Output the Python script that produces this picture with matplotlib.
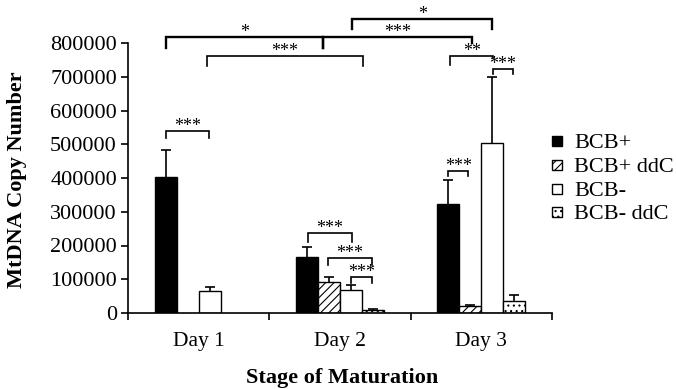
import numpy as np
import matplotlib.pyplot as plt
from matplotlib.patches import Rectangle

plt.rcParams['font.family'] = ['Liberation Serif', 'DejaVu Serif']
plt.rcParams['hatch.linewidth'] = 0.8

days = ['Day 1', 'Day 2', 'Day 3']
groups = ['BCB+', 'BCB+ ddC', 'BCB-', 'BCB- ddC']

# mean copy number per day (nan = not measured)
bcb_pos = [404000, 165000, 323000]
bcb_pos_ddc = [np.nan, 93000, 21000]
bcb_neg = [66000, 68000, 503000]
bcb_neg_ddc = [np.nan, 9000, 36000]

# upper error (SEM)
bcb_pos_err = [79000, 31000, 71000]
bcb_pos_ddc_err = [np.nan, 13000, 3000]
bcb_neg_err = [12000, 14000, 195000]
bcb_neg_ddc_err = [np.nan, 2500, 17000]

values = [bcb_pos, bcb_pos_ddc, bcb_neg, bcb_neg_ddc]
errors = [bcb_pos_err, bcb_pos_ddc_err, bcb_neg_err, bcb_neg_ddc_err]

# significance brackets: x1, x2, top, left leg end, right leg end, label
brackets = [
    (-0.234, 0.879, 818700, 786000, 786000, '*'),
    (0.879, 1.936, 818700, 786000, 800900, '***'),
    (1.085, 2.078, 871100, 841500, 841500, '*'),
    (0.062, 1.161, 761500, 731900, 731900, '***'),
    (1.78, 2.085, 761500, 734800, 755600, '**'),
    (2.083, 2.225, 723000, 708100, 708100, '***'),
    (-0.234, 0.071, 540100, 519400, 519400, '***'),
    (0.773, 1.083, 236100, 211300, 211300, '***'),
    (0.915, 1.225, 163900, 142200, 142200, '***'),
    (1.078, 1.225, 107600, 89800, 89800, '***'),
    (1.766, 1.908, 422200, 405900, 405900, '***'),
]

faces = ['black', 'white', 'white', 'white']
hatches = [None, '////', None, '...']

W, H = 676, 389
fig = plt.figure(figsize=(W/100, H/100), dpi=100)
ax = fig.add_axes([128/W, 76/H, 424/W, 270/H])

x = np.arange(len(days))
w = 0.156
for i in range(4):
    xs = x + (i - 1.5) * w
    v = np.array(values[i], dtype=float)
    e = np.array(errors[i], dtype=float)
    ok = ~np.isnan(v)
    ax.bar(xs[ok], v[ok], w, color=faces[i], edgecolor='black',
           hatch=hatches[i], linewidth=1, zorder=2)
    eb = ax.errorbar(xs[ok], v[ok], yerr=[np.zeros(ok.sum()), e[ok]], fmt='none',
                     ecolor='black', elinewidth=1.2, capsize=3.5, capthick=1.2, zorder=1)
    eb[1][0].set_visible(False)  # no cap at the bar top

for x1, x2, top, l1, l2, lab in brackets:
    lw = 1.7 if top > 800000 else 1.2
    ax.plot([x1, x1, x2, x2], [l1, top, top, l2], color='black', lw=lw,
            clip_on=False, solid_joinstyle='miter')
    ax.text((x1 + x2) / 2, top, lab, ha='center', va='baseline',
            fontsize=13, clip_on=False)

ax.set_xlim(-0.5, 2.5)
ax.set_ylim(0, 800000)
ax.set_yticks(np.arange(0, 800001, 100000))
ax.set_yticklabels([str(t) for t in range(0, 800001, 100000)])
ax.set_xticks([-0.5, 0.5, 1.5, 2.5])
ax.set_xticklabels([])
ax.set_xticks(x, minor=True)
ax.set_xticklabels(days, minor=True)
ax.tick_params(axis='x', which='major', direction='out', length=5, width=1.2)
ax.tick_params(axis='x', which='minor', length=0, pad=14, labelsize=15.5)
ax.tick_params(axis='y', direction='out', length=5, width=1.2, labelsize=16, pad=3)
for s in ['top', 'right']:
    ax.spines[s].set_visible(False)
for s in ['left', 'bottom']:
    ax.spines[s].set_linewidth(1.2)

fig.text(17/W, 1 - 180/H, 'MtDNA Copy Number', rotation=90, ha='center',
         va='center', fontsize=16, fontweight='bold')
fig.text(342/W, 1 - 378/H, 'Stage of Maturation', ha='center',
         va='center', fontsize=16, fontweight='bold')

# legend, drawn by hand so the rows sit where they do in the original
row_y = [141, 165, 189, 212]
for i, lab in enumerate(groups):
    yc = row_y[i]
    fig.add_artist(Rectangle((552/W, 1 - (yc + 5)/H), 10/W, 10/H,
                             transform=fig.transFigure, facecolor=faces[i],
                             edgecolor='black', hatch=hatches[i], linewidth=1))
    fig.text(574/W, 1 - (yc + 7.3)/H, lab, ha='left', va='baseline', fontsize=16)

fig.savefig('out.png', dpi=100)
